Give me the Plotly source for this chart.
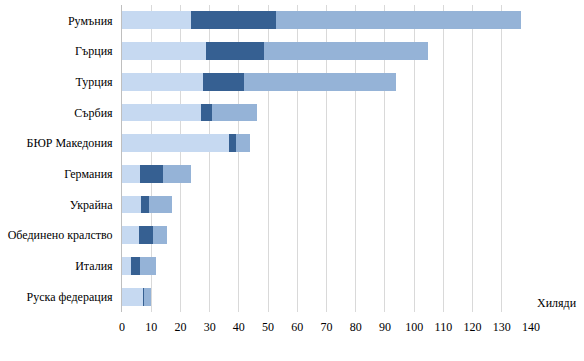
import plotly.graph_objects as go

categories = ["Румъния", "Гърция", "Турция", "Сърбия", "БЮР Македония",
              "Германия", "Украйна", "Обединено кралство", "Италия", "Руска федерация"]
seg1 = [23.5, 28.9, 27.6, 27.0, 36.5, 6.2, 6.5, 5.8, 3.1, 7.2]
seg2 = [29.2, 19.7, 14.2, 3.7, 2.5, 7.8, 2.7, 4.9, 3.1, 0.4]
seg3 = [83.8, 56.2, 52.1, 15.6, 4.9, 9.5, 7.8, 4.6, 5.3, 2.3]
xticks = list(range(0, 141, 10))

colors = ["#C6D9F1", "#366092", "#95B3D7"]

fig = go.Figure()
for vals, c in zip([seg1, seg2, seg3], colors):
    fig.add_trace(go.Bar(y=categories, x=vals, orientation="h",
                         marker=dict(color=c, line=dict(width=0))))

fig.update_layout(
    barmode="stack", bargap=0.42, showlegend=False,
    width=584, height=361,
    margin=dict(l=122, r=53, t=5, b=49, autoexpand=False),
    paper_bgcolor="white", plot_bgcolor="white",
    font=dict(family="Liberation Serif", size=12, color="black"),
)
fig.update_xaxes(range=[0, 140], tickvals=xticks, showgrid=True,
                 gridcolor="#D9D9D9", gridwidth=1, zeroline=False,
                 showline=False, ticks="", automargin=False,
                 ticklabelstandoff=6,
                 tickfont=dict(family="Liberation Serif", size=12))
fig.update_yaxes(autorange="reversed", showline=True, linecolor="#BFBFBF",
                 linewidth=1, ticks="", ticksuffix="  ", automargin=False,
                 tickfont=dict(family="Liberation Serif", size=12))
fig.add_annotation(text="Хиляди", xref="paper", yref="paper", x=1.0, y=0.0,
                   xanchor="left", yanchor="bottom", showarrow=False,
                   xshift=4, font=dict(family="Liberation Serif", size=12))

fig.write_html("out.html", config={"displayModeBar": False},
               post_script="document.body.style.margin='0';")
